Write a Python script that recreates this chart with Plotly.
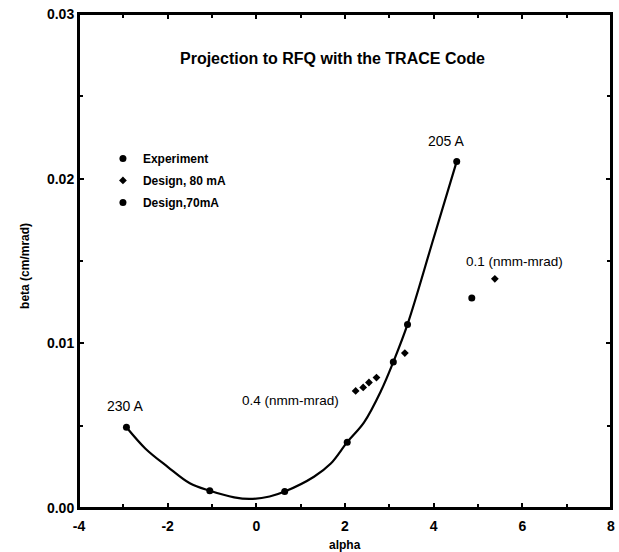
import plotly.graph_objects as go

# Experimental points (on the curve)
exp_alpha = [-2.93, -1.05, 0.64, 2.05, 3.09, 3.41, 4.52]
exp_beta = [0.0049, 0.00105, 0.001, 0.004, 0.00887, 0.01115, 0.02105]

# Design, 80 mA
d80_alpha = [2.24, 2.41, 2.54, 2.71, 3.35, 5.38]
d80_beta = [0.00711, 0.00732, 0.00762, 0.00792, 0.00941, 0.01392]

# Design, 70 mA
d70_alpha = [4.86]
d70_beta = [0.01275]

# Smooth curve
curve_alpha = [-2.93, -2.5, -2.0, -1.5, -1.05, -0.5, -0.15, 0.3, 0.64, 1.3, 1.68,
               2.05, 2.43, 2.81, 3.09, 3.41, 4.0, 4.52]
curve_beta = [0.0049, 0.0036, 0.0025, 0.0015, 0.00105, 0.00065, 0.00055, 0.0007,
              0.001, 0.0019, 0.0027, 0.004, 0.0052, 0.0071, 0.00887, 0.01115, 0.0164, 0.02105]

x_ticks = [-4, -2, 0, 2, 4, 6, 8]
y_ticks = [0.00, 0.01, 0.02, 0.03]

FONT = "Liberation Sans"

fig = go.Figure()
fig.add_trace(go.Scatter(x=curve_alpha, y=curve_beta, mode="lines",
                         line=dict(color="black", width=2.2, shape="spline", smoothing=1.0),
                         showlegend=False, hoverinfo="skip"))
fig.add_trace(go.Scatter(x=exp_alpha, y=exp_beta, mode="markers", name="Experiment",
                         legendgroup="g1",
                         marker=dict(symbol="circle", size=7, color="black")))
fig.add_trace(go.Scatter(x=d80_alpha, y=d80_beta, mode="markers", name="Design, 80 mA",
                         legendgroup="g2",
                         marker=dict(symbol="diamond", size=6, color="black")))
fig.add_trace(go.Scatter(x=d70_alpha, y=d70_beta, mode="markers", name="Design,70mA",
                         legendgroup="g3",
                         marker=dict(symbol="circle", size=7, color="black")))

annots = [
    dict(x=1.72, y=0.0273, text="<b>Projection to RFQ with the TRACE Code</b>", size=16),
    dict(x=-2.96, y=0.0062, text="230 A", size=14),
    dict(x=4.27, y=0.0223, text="205 A", size=14),
    dict(x=0.77, y=0.00655, text="0.4 (nmm-mrad)", size=13.5),
    dict(x=5.82, y=0.0150, text="0.1 (nmm-mrad)", size=13.5),
]
for a in annots:
    fig.add_annotation(x=a["x"], y=a["y"], xref="x", yref="y", text=a["text"],
                       showarrow=False, font=dict(family=FONT, size=a["size"], color="black"))

# axis titles
fig.add_annotation(x=0.5, y=-0.075, xref="paper", yref="paper", text="<b>alpha</b>",
                   showarrow=False, yanchor="middle",
                   font=dict(family=FONT, size=12, color="black"))
fig.add_annotation(x=-0.1015, y=0.49, xref="paper", yref="paper", text="<b>beta (cm/mrad)</b>",
                   showarrow=False, textangle=-90, xanchor="center", yanchor="middle",
                   font=dict(family=FONT, size=12, color="black"))

# plot frame
fig.add_shape(type="rect", xref="paper", yref="paper", x0=0, y0=0, x1=1, y1=1,
              line=dict(color="black", width=2), layer="above")

axis_common = dict(showline=True, linecolor="black", linewidth=2, mirror="ticks",
                   ticks="inside", ticklen=5, tickwidth=1.5, tickcolor="black",
                   showgrid=False, zeroline=False, automargin=False,
                   ticklabeloverflow="allow",
                   tickfont=dict(family=FONT, size=14, color="black", weight="bold"))

fig.update_xaxes(range=[-4, 8], tickvals=x_ticks, ticktext=[str(v) for v in x_ticks],
                 minor=dict(ticks="inside", dtick=1, ticklen=4, tickcolor="black", tickwidth=1.5),
                 ticklabelstandoff=4,
                 **axis_common)
fig.update_yaxes(range=[0, 0.03], tickvals=y_ticks, ticktext=[f"{v:.2f}" for v in y_ticks],
                 minor=dict(ticks="inside", dtick=0.005, ticklen=4, tickcolor="black", tickwidth=1.5),
                 ticklabelstandoff=0,
                 **axis_common)

fig.update_layout(
    width=619, height=552,
    margin=dict(l=79, r=8, t=14, b=44),
    paper_bgcolor="white", plot_bgcolor="white",
    font=dict(family=FONT, color="black"),
    showlegend=True,
    legend=dict(x=0.045, y=0.737, xanchor="left", yanchor="top",
                bgcolor="rgba(0,0,0,0)", borderwidth=0,
                font=dict(family=FONT, size=12, color="black", weight="bold"),
                itemwidth=30, tracegroupgap=3),
)

fig.write_html("out.html", config={"displayModeBar": False},
               post_script="document.body.style.margin='0px';document.body.style.overflow='hidden';")
